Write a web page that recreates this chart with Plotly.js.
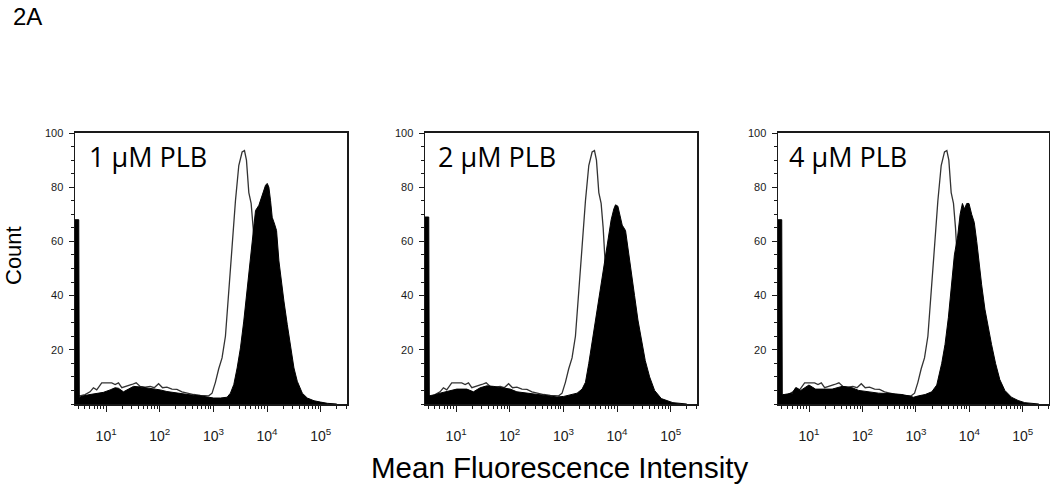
<!DOCTYPE html>
<html>
<head>
<meta charset="utf-8">
<script src="https://cdn.plot.ly/plotly-3.0.1.min.js"></script>
<style>html,body{margin:0;padding:0;background:#fff;}#chart{width:1050px;height:487px;}</style>
</head>
<body>
<div id="chart"></div>
<script>
// Panel labels
const panelLabels = ["1 μM PLB", "2 μM PLB", "4 μM PLB"];
const xTickVals = [10, 100, 1000, 10000, 100000];
const xTickText = ["10<sup>1</sup>", "10<sup>2</sup>", "10<sup>3</sup>", "10<sup>4</sup>", "10<sup>5</sup>"];
const yTickVals = [20, 40, 60, 80, 100];

// Control (open histogram) — log10(MFI) and counts
const ctrlLog = [0.42, 0.47, 0.48, 0.513, 0.607, 0.70, 0.763, 0.825, 0.918, 1.012, 1.105, 1.168, 1.23, 1.293, 1.386, 1.48, 1.56, 1.635, 1.728, 1.822, 1.897, 1.978, 2.052, 2.133, 2.227, 2.32, 2.414, 2.507, 2.632, 2.756, 2.85, 2.912, 2.975, 3.037, 3.099, 3.161, 3.224, 3.286, 3.348, 3.411, 3.473, 3.535, 3.579, 3.616, 3.66, 3.703, 3.741, 3.784, 3.847, 3.94, 4.065, 4.314, 4.563, 5.0];
const ctrlCount = [32, 32, 3, 3, 3.5, 4.5, 6, 5.2, 7.8, 7.8, 7.8, 7.2, 7.8, 6.0, 6.5, 7.2, 7.8, 6.5, 6.2, 6.5, 6.0, 7.5, 6.0, 6.2, 5.5, 5.4, 4.5, 4.0, 3.5, 3.2, 3.0, 3.0, 4, 8, 13, 17, 25, 40, 58, 75, 88, 93, 93.5, 90, 78, 74, 65, 50, 30, 12, 4, 1, 0.3, 0];

// 1 µM PLB (filled)
const plb1Log = [0.42, 0.49, 0.50, 0.576, 0.70, 0.825, 0.95, 1.074, 1.168, 1.23, 1.323, 1.417, 1.51, 1.635, 1.76, 1.884, 2.009, 2.133, 2.258, 2.383, 2.507, 2.632, 2.756, 2.881, 3.006, 3.13, 3.255, 3.317, 3.380, 3.442, 3.504, 3.566, 3.629, 3.691, 3.741, 3.785, 3.847, 3.890, 3.940, 3.971, 4.003, 4.034, 4.065, 4.096, 4.140, 4.177, 4.221, 4.264, 4.314, 4.376, 4.439, 4.501, 4.563, 4.657, 4.750, 4.875, 4.999, 5.124, 5.3];
const plb1Count = [68, 68, 2.5, 3.0, 3.5, 4.0, 4.3, 5.2, 6.0, 5.8, 4.5, 5.5, 6.5, 6.3, 6.0, 5.6, 5.2, 4.6, 4.2, 3.9, 3.6, 3.2, 3.0, 2.5, 2.2, 2.2, 2.5, 4.0, 7.2, 13.3, 20.7, 30.6, 43, 55.3, 65.2, 71.4, 73.3, 75.8, 78.3, 80.7, 81.4, 80, 75, 68.9, 66.4, 64, 52.8, 45.4, 38, 29.4, 20.7, 13.3, 8.4, 4.0, 2.2, 1.2, 0.7, 0.25, 0];

// 2 µM PLB (filled)
const plb2Log = [0.42, 0.49, 0.50, 0.545, 0.70, 0.887, 1.012, 1.199, 1.323, 1.448, 1.573, 1.697, 1.884, 2.009, 2.133, 2.32, 2.507, 2.632, 2.756, 2.881, 3.006, 3.13, 3.255, 3.348, 3.411, 3.473, 3.535, 3.598, 3.691, 3.785, 3.847, 3.89, 3.94, 3.971, 4.015, 4.052, 4.096, 4.158, 4.202, 4.264, 4.326, 4.389, 4.463, 4.526, 4.607, 4.7, 4.825, 4.95, 5.04, 5.3];
const plb2Count = [69, 69, 3.0, 3.0, 4, 4.8, 5.5, 5.5, 4.5, 6, 6.7, 6.5, 6, 5.5, 4.5, 4, 3.5, 3, 2.8, 2.6, 2.8, 3.5, 4.0, 5.5, 8, 15, 23, 30, 43, 55, 63, 68, 72, 73.5, 73, 70, 66, 64, 58, 50, 40, 31, 22, 16, 10, 5, 2, 1, 0.5, 0];

// 4 µM PLB (filled)
const plb4Log = [0.42, 0.49, 0.50, 0.533, 0.688, 0.75, 0.844, 0.999, 1.123, 1.247, 1.434, 1.62, 1.806, 1.931, 2.117, 2.303, 2.552, 2.738, 2.862, 2.955, 3.049, 3.173, 3.297, 3.39, 3.483, 3.545, 3.608, 3.657, 3.72, 3.782, 3.827, 3.87, 3.908, 3.951, 3.993, 4.043, 4.092, 4.138, 4.179, 4.23, 4.291, 4.353, 4.415, 4.49, 4.57, 4.664, 4.788, 4.912, 5.036, 5.3];
const plb4Count = [68, 68, 3.5, 3.5, 4, 6, 5, 7, 5.5, 5.5, 5.5, 6.5, 6, 5, 4.5, 4, 3.8, 3.5, 3.0, 2.5, 3, 3.5, 4.5, 7, 15, 22, 32, 42, 55, 62, 70, 74, 72, 74, 74, 70, 67, 60, 52, 44, 35, 28, 22, 15, 9, 5, 2.5, 1.3, 0.5, 0];

const toMFI = arr => arr.map(v => Math.pow(10, v));

const W = 1050, H = 487;
const px = x => x / W;
const py = y => 1 - y / H;

const panels = [
  {log: plb1Log, cnt: plb1Count, left: 75, right: 347, label: panelLabels[0], lx: 87},
  {log: plb2Log, cnt: plb2Count, left: 425, right: 697, label: panelLabels[1], lx: 436},
  {log: plb4Log, cnt: plb4Count, left: 778, right: 1049, label: panelLabels[2], lx: 787}
];

const minorX = [];
for (let d = 1; d <= 100000; d *= 10) for (let k = 2; k <= 9; k++) minorX.push(k * d);

const lineCol = '#1a1a1a';
const tickFont = {family: 'Liberation Sans, Arial, sans-serif', color: '#1a1a1a'};
const traces = [];
const layout = {
  width: W, height: H,
  margin: {l: 0, r: 0, t: 0, b: 0},
  paper_bgcolor: '#fff', plot_bgcolor: '#fff',
  showlegend: false,
  annotations: []
};

panels.forEach((p, i) => {
  const sfx = i === 0 ? '' : String(i + 1);
  const xa = 'x' + sfx, ya = 'y' + sfx;
  traces.push({
    x: toMFI(ctrlLog), y: ctrlCount, xaxis: xa, yaxis: ya,
    type: 'scatter', mode: 'lines', line: {color: '#333', width: 1.3},
    hoverinfo: 'skip'
  });
  traces.push({
    x: toMFI(p.log), y: p.cnt, xaxis: xa, yaxis: ya,
    type: 'scatter', mode: 'lines', fill: 'tozeroy',
    fillcolor: '#000', line: {color: '#000', width: 1},
    hoverinfo: 'skip'
  });
  layout['xaxis' + sfx] = {
    type: 'log', range: [0.42, 5.49], domain: [px(p.left), px(p.right)], anchor: ya,
    showline: true, mirror: true, linecolor: lineCol, linewidth: 2,
    ticks: 'outside', ticklen: 6, tickwidth: 1, tickcolor: lineCol,
    tickmode: 'array', tickvals: xTickVals, ticktext: xTickText,
    tickfont: Object.assign({size: 14}, tickFont),
    ticklabelstandoff: 12,
    showgrid: false, zeroline: false,
    minor: {tickmode: 'array', tickvals: minorX, ticks: 'outside', ticklen: 3, tickwidth: 1, tickcolor: lineCol, showgrid: false}
  };
  layout['yaxis' + sfx] = {
    range: [0, 100], domain: [py(404), py(133)], anchor: xa,
    showline: true, mirror: true, linecolor: lineCol, linewidth: 1.5,
    ticks: 'outside', ticklen: 5, tickwidth: 1, tickcolor: lineCol,
    tickmode: 'array', tickvals: yTickVals,
    tickfont: Object.assign({size: 11}, tickFont),
    ticklabelstandoff: 3,
    showgrid: false, zeroline: false,
    minor: {tickmode: 'linear', tick0: 0, dtick: 5, ticks: 'outside', ticklen: 3, tickwidth: 1, tickcolor: lineCol, showgrid: false}
  };
  layout.annotations.push({
    text: p.label, xref: 'paper', yref: 'paper', x: px(p.lx), y: py(156),
    xanchor: 'left', yanchor: 'middle', showarrow: false,
    font: {family: 'Open Sans, sans-serif', size: 27, color: '#000'}
  });
});

layout.annotations.push({
  text: 'Count', xref: 'paper', yref: 'paper', x: px(13), y: py(256),
  xanchor: 'center', yanchor: 'middle', textangle: -90, showarrow: false,
  font: {family: 'Liberation Sans, Arial, sans-serif', size: 22, color: '#000'}
});
layout.annotations.push({
  text: 'Mean Fluorescence Intensity', xref: 'paper', yref: 'paper', x: px(559), y: py(467),
  xanchor: 'center', yanchor: 'middle', showarrow: false,
  font: {family: 'Liberation Sans, Arial, sans-serif', size: 29.5, color: '#000'}
});
layout.annotations.push({
  text: '2A', xref: 'paper', yref: 'paper', x: px(11), y: py(16),
  xanchor: 'left', yanchor: 'middle', showarrow: false,
  font: {family: 'Liberation Sans, Arial, sans-serif', size: 24, color: '#000'}
});

Plotly.newPlot('chart', traces, layout, {displayModeBar: false, staticPlot: true});
</script>
</body>
</html>
